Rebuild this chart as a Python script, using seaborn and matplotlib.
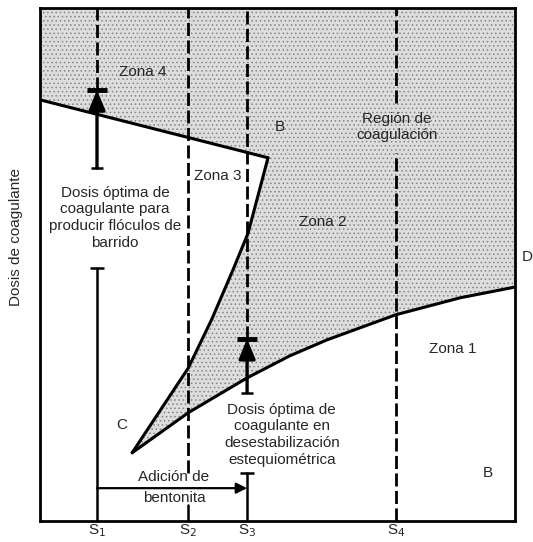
import numpy as np
import matplotlib
matplotlib.use('Agg')
import matplotlib.pyplot as plt
import seaborn as sns

# diagram of coagulation zones (dose of coagulant vs. colloid concentration)

# x positions of the colloid concentrations S1..S4 (0-100 scale)
s_pos = [12.0, 31.2, 43.6, 74.9]
s_labels = ['S$_1$', 'S$_2$', 'S$_3$', 'S$_4$']

# boundary between zone 4 and the clear region
top_x = [0.0, 48.0]
top_y = [82.1, 70.8]

# zone 3 boundary, from the corner down to point C
z3_x = [48.0, 43.8, 40.6, 36.2, 31.2, 19.4]
z3_y = [70.8, 56.1, 48.9, 39.4, 29.8, 13.3]

# curve C - D (lower limit of coagulation)
cd_x = [19.4, 31.2, 43.6, 52.6, 60.4, 74.9, 88.4, 100.0]
cd_y = [13.3, 21.1, 27.9, 32.2, 35.3, 40.2, 43.5, 45.6]

# dashed verticals: x, y from, y to
dash_x = [12.0, 31.2, 43.6, 74.9, 74.9]
dash_y0 = [84.0, 9.4, 35.5, 81.5, 0.0]
dash_y1 = [100.0, 100.0, 100.0, 100.0, 71.7]

# solid verticals
solid_x = [12.0, 43.6, 31.2]
solid_y0 = [0.0, 0.0, 0.0]
solid_y1 = [49.3, 9.4, 3.1]

# optimum dose arrows (bottom -> top)
arrow_x = [12.0, 43.6]
arrow_y0 = [68.8, 25.0]
arrow_y1 = [84.0, 35.5]

# bentonite addition arrow
bent_y = 6.4

sns.set_style('white')
plt.rcParams['font.family'] = ['Liberation Sans', 'DejaVu Sans']
plt.rcParams['hatch.linewidth'] = 0.6
plt.rcParams['hatch.color'] = '#858585'

fig = plt.figure(figsize=(5.33, 5.42), dpi=100)
ax = fig.add_axes([40 / 533, 21 / 542, 475 / 533, 513 / 542])
ax.set_xlim(0, 100)
ax.set_ylim(0, 100)

# shaded coagulation region
poly_x = np.concatenate([[0, 100], cd_x[::-1], z3_x[::-1], top_x[::-1]])
poly_y = np.concatenate([[100, 100], cd_y[::-1], z3_y[::-1], top_y[::-1]])
ax.fill(poly_x, poly_y, facecolor='#dddddd', edgecolor='#858585', hatch='....', lw=0, zorder=1)

lw = 2.2
sns.lineplot(x=top_x, y=top_y, color='k', lw=lw, ax=ax, sort=False, zorder=3)
sns.lineplot(x=z3_x, y=z3_y, color='k', lw=lw, ax=ax, sort=False, zorder=3)
sns.lineplot(x=cd_x, y=cd_y, color='k', lw=lw, ax=ax, sort=False, zorder=3)

for x, a, b in zip(dash_x, dash_y0, dash_y1):
    ax.plot([x, x], [a, b], color='k', lw=2, ls=(0, (4.7, 1.6)), zorder=2)
for x, a, b in zip(solid_x, solid_y0, solid_y1):
    ax.plot([x, x], [a, b], color='k', lw=1.8, zorder=2)

# caps at the top of the solid segments
ax.plot(solid_x[:2], solid_y1[:2], ls='none', marker='_', ms=10, mew=1.8, color='k', zorder=3)

for x, a, b in zip(arrow_x, arrow_y0, arrow_y1):
    ax.annotate('', xy=(x, b), xytext=(x, a),
                arrowprops=dict(arrowstyle='-|>,head_length=0.6,head_width=0.25', color='k',
                                lw=2.4, mutation_scale=20, shrinkA=0, shrinkB=0), zorder=4)
ax.plot(arrow_x, arrow_y1, ls='none', marker='_', ms=14, mew=3.5, color='k', zorder=4)
ax.plot(arrow_x, arrow_y0, ls='none', marker='_', ms=9, mew=1.8, color='k', zorder=4)

ax.annotate('', xy=(s_pos[2], bent_y), xytext=(s_pos[0], bent_y),
            arrowprops=dict(arrowstyle='-|>', color='k', lw=1.6, mutation_scale=16,
                            shrinkA=0, shrinkB=0))

fs = 11
kw = dict(fontsize=fs, ha='center', va='center', linespacing=1.25, zorder=5)
ax.text(21.7, 87.5, 'Zona 4', **kw)
ax.text(37.5, 67.3, 'Zona 3', **kw)
ax.text(59.6, 58.3, 'Zona 2', **kw)
ax.text(86.9, 33.5, 'Zona 1', **kw)
ax.text(50.5, 76.8, 'B', **kw)
ax.text(94.3, 9.4, 'B', **kw)
ax.text(17.3, 18.7, 'C', **kw)
ax.text(102.6, 51.5, 'D', clip_on=False, **kw)
ax.text(75.2, 76.8, 'Región de\ncoagulación', **kw)
ax.text(15.8, 59.1, 'Dosis óptima de\ncoagulante para\nproducir flóculos de\nbarrido', **kw)
ax.text(50.9, 16.8, 'Dosis óptima de\ncoagulante en\ndesestabilización\nestequiométrica', **kw)
ax.text(28.2, 8.6, 'Adición de', **kw)
ax.text(28.2, 4.4, 'bentonita', **kw)

ax.set_xticks(s_pos)
ax.set_xticklabels(s_labels, fontsize=11)
ax.tick_params(axis='x', length=0, pad=1)
ax.set_yticks([])
ax.set_ylabel('Dosis de coagulante', fontsize=fs)
ax.yaxis.set_label_coords(-0.036, 0.554)

for sp in ax.spines.values():
    sp.set_visible(True)
    sp.set_color('k')
    sp.set_linewidth(2)

fig.savefig('out.png', dpi=100)
